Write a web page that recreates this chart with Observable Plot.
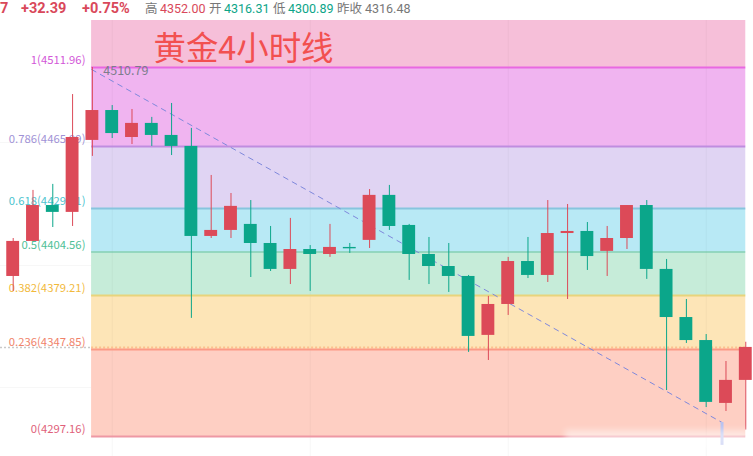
<!DOCTYPE html>
<html><head><meta charset="utf-8">
<script src="https://cdn.jsdelivr.net/npm/d3@7"></script>
<script src="https://cdn.jsdelivr.net/npm/@observablehq/plot@0.6"></script>
<style>
html,body{margin:0;padding:0;background:#fff;overflow:hidden}
#head{position:absolute;left:0;top:0;height:17px;white-space:nowrap;font:12.5px/17px Roboto,"Noto Sans CJK SC",sans-serif;color:#777}
#head span,#head b{position:absolute;top:0}
#head b{color:#d9485a;font-size:14.5px;font-weight:700}
#head .r{color:#d9485a}#head .g{color:#0ca588}
#chart{position:absolute;left:0;top:14px}
svg{display:block}
</style></head><body>
<div id="chart"></div>
<div id="head"><b style="left:0">7</b><b style="left:21px">+32.39</b><b style="left:82px">+0.75%</b><span style="left:145px">高</span><span class="r" style="left:160px">4352.00</span><span style="left:209px">开</span><span class="g" style="left:224px">4316.31</span><span style="left:273px">低</span><span class="g" style="left:288px">4300.89</span><span style="left:337px">昨收</span><span style="left:365px">4316.48</span></div>
<script>
const opens  = [4390.3,4410.7,4431.6,4427.6,4469.5,4486.9,4471.2,4479.4,4472.4,4466.0,4413.6,4417.1,4420.6,4409.5,4394.4,4406.0,4403.1,4407.2,4411.3,4437.5,4420.0,4403.1,4396.1,4390.3,4356.0,4374.0,4399.0,4390.9,4415.3,4416.5,4404.9,4412.4,4431.6,4394.4,4366.4,4353.0,4316.4,4329.8];
const closes = [4410.7,4431.6,4427.6,4471.2,4486.9,4473.5,4479.4,4472.4,4466.0,4413.6,4417.1,4431.1,4409.5,4394.4,4406.0,4403.1,4407.2,4406.4,4437.5,4419.4,4403.1,4396.1,4390.3,4355.4,4374.0,4399.0,4390.9,4415.3,4416.5,4401.9,4412.4,4431.6,4394.4,4366.4,4353.0,4317.0,4329.8,4349.0];
const highs  = [4412.4,4440.4,4443.9,4496.2,4511.96,4489.8,4487.5,4482.9,4491.0,4476.5,4449.1,4438.6,4434.5,4419.4,4424.1,4408.3,4420.6,4409.5,4440.9,4443.3,4420.6,4413.0,4409.5,4390.9,4378.7,4401.4,4413.0,4434.5,4432.2,4421.7,4419.4,4431.6,4434.5,4400.2,4376.9,4356.5,4340.8,4352.0];
const lows   = [4381.6,4410.7,4418.8,4419.4,4460.2,4470.6,4467.1,4466.0,4460.7,4365.9,4412.4,4412.4,4389.7,4393.2,4385.6,4381.6,4401.4,4403.7,4406.6,4417.1,4388.0,4385.6,4381.0,4346.1,4341.4,4367.6,4389.1,4386.8,4376.9,4393.8,4390.3,4406.0,4388.6,4323.9,4351.3,4314.0,4311.7,4300.89];
const candles = opens.map((o,i)=>({i,o,c:closes[i],h:highs[i],l:lows[i]}));

const fibRatios = ["1","0.786","0.618","0.5","0.382","0.236","0"];
const fibPrices = [4511.96,4465.99,4429.91,4404.56,4379.21,4347.85,4297.16];
const fibLine   = ["#e868e2","#c08ce0","#88c4de","#5dbf9f","#e8d47c","#fb9a85","#ee98a4"];
const fibText   = ["#d257d8","#9f92d6","#4cc4cf","#4fbf98","#f2b93a","#f0826a","#e0607a"];
const fibWidth  = [2,2,2,1,2,2,2];
const bandTop   = [4539.3,4511.96,4465.99,4429.91,4404.56,4379.21,4347.85];
const bandBot   = [4511.96,4465.99,4429.91,4404.56,4379.21,4347.85,4297.16];
const bandFill  = ["#f6bfd9","#f0b4f0","#e0d4f3","#b8e9f5","#c6ecd9","#fde5b7","#fecfc3"];
const bands = bandTop.map((t,k)=>({t,b:bandBot[k],f:bandFill[k]}));
const fibs = fibRatios.map((r,k)=>({r,p:fibPrices[k],line:fibLine[k],text:fibText[k],w:fibWidth[k]}));
const bandStart = 3.96, bandEnd = 37;
const gridX = [5,15,25,35];
const gridY = [4396.7,4325.7,4468.3];
const trend = [{x:3.96,y:4510.79},{x:35.8,y:4305.3}];
const red="#dc4a58", green="#0ba68a";

const chart = Plot.plot({
  width:753,height:442,margin:0,
  style:{fontFamily:'"Noto Sans CJK SC",sans-serif',background:"transparent"},
  x:{domain:[-0.641,37.39],range:[0,753],axis:null},
  y:{domain:[4285.5,4542.8],range:[442,0],axis:null},
  marks:[
    Plot.ruleY(gridY,{x1:-0.641,x2:3.96,stroke:"#000",strokeOpacity:0.035}),
    Plot.rect(bands,{x1:bandStart,x2:bandEnd,y1:"b",y2:"t",fill:"f",inset:0}),
    Plot.ruleX(gridX,{y1:4285.5,y2:4539.3,stroke:"#000",strokeOpacity:0.035}),
    Plot.ruleY([4349.0],{x1:-0.641,x2:bandStart,stroke:"#c9c9c9",strokeWidth:1.5,strokeDasharray:"2 2"}),
    Plot.ruleY([4349.0],{x1:bandStart,x2:bandEnd,stroke:"#fcc08f",strokeWidth:2,strokeDasharray:"2 2"}),
    ...fibs.map(f=>Plot.ruleY([f.p],{x1:bandStart,x2:bandEnd,stroke:f.line,strokeWidth:f.w})),
    Plot.text(fibs,{x:3.65,y:"p",text:d=>`${d.r}(${d.p.toFixed(2)})`,fill:"text",textAnchor:"end",dy:-7,fontSize:11.3}),
    Plot.line(trend,{x:"x",y:"y",stroke:"#7f88dc",strokeWidth:1,strokeDasharray:"5 5"}),
    Plot.ruleX([35.8],{y1:4305.3,y2:4292,stroke:"#b9c2f0",strokeWidth:3}),
    Plot.text(["4510.79"],{x:[4.55],y:[4510.79],fill:"#7d7d8c",fontSize:12.5,textAnchor:"start",dy:2}),
    Plot.ruleX(candles,{x:"i",y1:"l",y2:"h",stroke:d=>d.c>=d.o?red:green,strokeWidth:1}),
    Plot.rect(candles,{x1:d=>d.i-0.325,x2:d=>d.i+0.325,y1:"o",y2:"c",fill:d=>d.c>=d.o?red:green,inset:0}),
    Plot.text(["黄金4小时线"],{x:[7.09],y:[4522.4],fill:"#f25050",fontSize:32.4,textAnchor:"start"}),
    Plot.rect([0],{x1:27.9,x2:37.2,y1:4290,y2:4300.6,fill:"#fff",fillOpacity:0.5,imageFilter:"blur(3px)"})
  ]
});
document.getElementById("chart").append(chart);
</script></body></html>
